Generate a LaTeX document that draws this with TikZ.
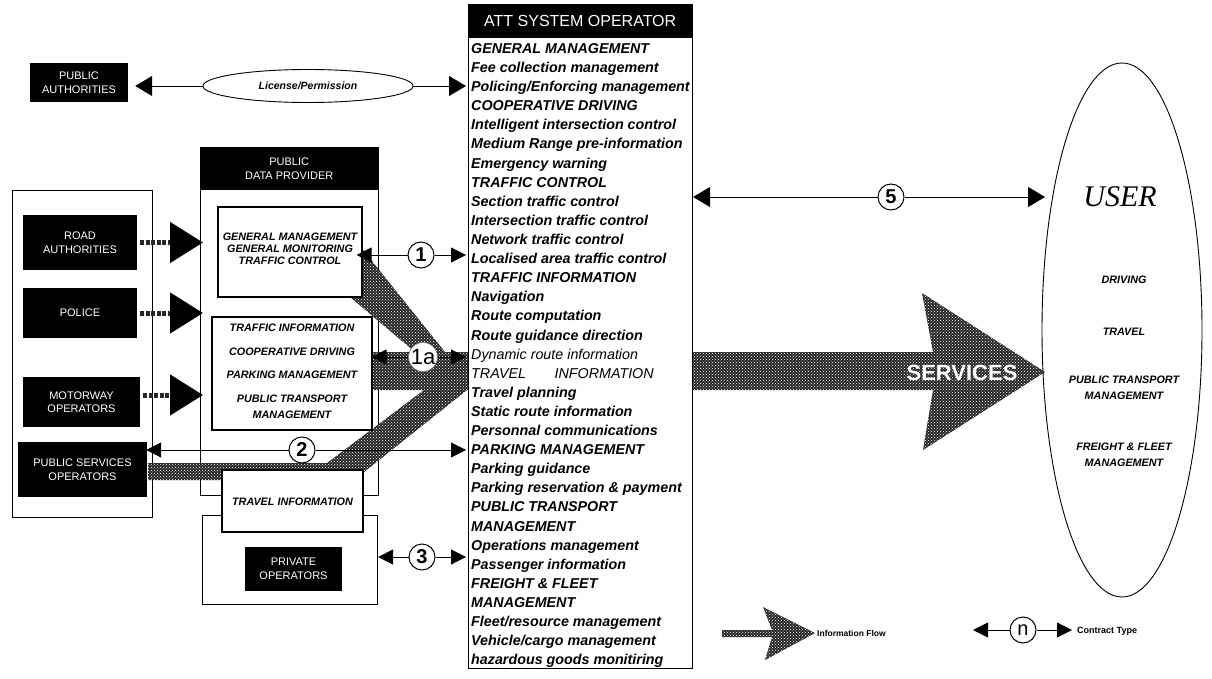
\documentclass[tikz,border=0pt]{standalone}
\usepackage{fontspec}
\setmainfont{Liberation Sans}
\newfontfamily\serifit{Liberation Serif}
\usetikzlibrary{arrows.meta,patterns,shapes.geometric,calc}
\newcommand{\setfs}[2]{\fontsize{#1}{#2}\selectfont}

\begin{document}
\begin{tikzpicture}[x=1pt,y=-1pt,
  box/.style={draw,line width=1.1pt,fill=white,inner sep=0pt},
  blk/.style={fill=black,text=white,font=\setfs{11}{13.5},align=center,inner sep=0pt},
  ci/.style={anchor=west,font=\bfseries\itshape\setfs{14.3}{16},inner sep=0pt,text height=10pt,text depth=3pt},
  cr/.style={anchor=west,font=\itshape\setfs{14.3}{16},inner sep=0pt,text height=10pt,text depth=3pt},
  bi/.style={font=\bfseries\itshape\setfs{10.8}{12},align=center,inner sep=0pt},
  arr/.style={line width=0.9pt,-{Triangle[length=15pt,width=15pt]}},
  arrbig/.style={line width=0.9pt,-{Triangle[length=17pt,width=20pt]}},
  fat/.style={line width=5pt,black!85,dash pattern=on 4pt off 1.5pt,
    -{Triangle[length=33pt,width=40pt,fill=black,color=black]}},
  num/.style={circle,draw,line width=1pt,fill=white,inner sep=0pt,minimum size=26pt,font=\bfseries\setfs{20}{20}},
  band/.style={fill=black!85,postaction={pattern=crosshatch dots,pattern color=white}}]
\useasboundingbox (0,0) rectangle (1212,679);

% ---------- frames behind the information flow ----------
\node[box,anchor=north west,minimum width=140pt,minimum height=327pt] (grp) at (12,190) {};
\node[box,anchor=north west,minimum width=178pt,minimum height=348pt] (pdp) at (200,147) {};
\node[box,anchor=north west,minimum width=175pt,minimum height=89pt] (prv) at (202,515) {};

% ---------- information flow band ----------
\fill[band] (270,230) -- (335,215) -- (445,352) -- (933,352) -- (922,293)
  -- (1045,372) -- (923,450) -- (933,390) -- (467,390) -- (354,480)
  -- (148,480) -- (148,463) -- (327,463) -- (424,390) -- (360,390)
  -- (360,352) -- (415,352) -- (350,297) -- cycle;

% ---------- boxes of the public data provider ----------
\node[blk,anchor=north west,minimum width=178pt,minimum height=43pt] (pdph) at (200,147) {PUBLIC\\DATA PROVIDER};
\node[box,minimum width=144pt,minimum height=90pt] (gm) at (290,252) {};
\node[bi] (gmt) at (290,249) {GENERAL MANAGEMENT\\GENERAL MONITORING\\TRAFFIC CONTROL};
\node[box,minimum width=160pt,minimum height=113pt] (ti) at (292,373.5) {};
\node[bi] (ti1) at (292,328) {TRAFFIC INFORMATION};
\node[bi] (ti2) at (292,352) {COOPERATIVE DRIVING};
\node[bi] (ti3) at (292,375) {PARKING MANAGEMENT};
\node[bi,font=\bfseries\itshape\setfs{10.8}{16}] (ti4) at (292,407) {PUBLIC TRANSPORT\\MANAGEMENT};
\node[box,minimum width=141pt,minimum height=62pt] (trv) at (292.5,501) {};
\node[bi] (trvt) at (292.5,502) {TRAVEL INFORMATION};
\node[blk,minimum width=97pt,minimum height=44pt] (po) at (293.5,569) {PRIVATE\\OPERATORS};

% ---------- public bodies ----------
\node[blk,minimum width=98pt,minimum height=39pt] (pa) at (79,82.5) {PUBLIC\\AUTHORITIES};
\node[blk,minimum width=114pt,minimum height=55pt] (ra) at (80,242.5) {ROAD\\AUTHORITIES};
\node[blk,minimum width=114pt,minimum height=50pt] (pol) at (80,313) {POLICE};
\node[blk,minimum width=117pt,minimum height=50pt] (mo) at (81.5,402) {MOTORWAY\\OPERATORS};
\node[blk,minimum width=129pt,minimum height=55pt] (pso) at (82.5,469.5) {PUBLIC SERVICES\\OPERATORS};

\draw[fat,shorten <=3pt,shorten >=-3pt] (ra.east) -- (ra.east -| pdp.west);
\draw[fat,shorten <=3pt,shorten >=-3pt] (pol.east) -- (pol.east -| pdp.west);
\draw[fat,shorten <=3pt,shorten >=-3pt] ($(mo.east)+(0,-7)$) -- ($(mo.east -| pdp.west)+(0,-7)$);

% ---------- licence ----------
\node[draw,ellipse,line width=0.9pt,minimum width=210pt,minimum height=33pt,inner sep=0pt,
  font=\bfseries\itshape\setfs{10.5}{12}] (lic) at (308,86) {License/Permission};

% ---------- ATT system operator ----------
\node[draw,line width=1.1pt,fill=white,minimum width=224pt,minimum height=664pt,inner sep=0pt,anchor=north west] (att) at (468,4) {};
\node[fill=black,text=white,minimum width=224pt,minimum height=34pt,inner sep=0pt,anchor=north west,font=\setfs{16}{16}] (atth) at (468,4) {ATT SYSTEM OPERATOR};
\node[ci] (l1) at (471,50.0) {GENERAL MANAGEMENT};
\node[ci] (l2) at (471,69.1) {Fee collection management};
\node[ci] (l3) at (471,88.2) {Policing/Enforcing management};
\node[ci] (l4) at (471,107.3) {COOPERATIVE DRIVING};
\node[ci] (l5) at (471,126.4) {Intelligent intersection control};
\node[ci] (l6) at (471,145.5) {Medium Range pre-information};
\node[ci] (l7) at (471,164.6) {Emergency warning};
\node[ci] (l8) at (471,183.7) {TRAFFIC CONTROL};
\node[ci] (l9) at (471,202.8) {Section traffic control};
\node[ci] (l10) at (471,221.9) {Intersection traffic control};
\node[ci] (l11) at (471,241.0) {Network traffic control};
\node[ci] (l12) at (471,260.1) {Localised area traffic control};
\node[ci] (l13) at (471,279.2) {TRAFFIC INFORMATION};
\node[ci] (l14) at (471,298.3) {Navigation};
\node[ci] (l15) at (471,317.4) {Route computation};
\node[ci] (l16) at (471,336.5) {Route guidance direction};
\node[cr] (l17) at (471,355.6) {Dynamic route information};
\node[cr] (l18) at (471,374.7) {TRAVEL\hspace{2em}INFORMATION};
\node[ci] (l19) at (471,393.8) {Travel planning};
\node[ci] (l20) at (471,412.9) {Static route information};
\node[ci] (l21) at (471,432.0) {Personnal communications};
\node[ci] (l22) at (471,451.1) {PARKING MANAGEMENT};
\node[ci] (l23) at (471,470.2) {Parking guidance};
\node[ci] (l24) at (471,489.3) {Parking reservation \& payment};
\node[ci] (l25) at (471,508.4) {PUBLIC TRANSPORT};
\node[ci] (l26) at (471,527.5) {MANAGEMENT};
\node[ci] (l27) at (471,546.6) {Operations management};
\node[ci] (l28) at (471,565.7) {Passenger information};
\node[ci] (l29) at (471,584.8) {FREIGHT \& FLEET};
\node[ci] (l30) at (471,603.9) {MANAGEMENT};
\node[ci] (l31) at (471,623.0) {Fleet/resource management};
\node[ci] (l32) at (471,642.1) {Vehicle/cargo management};
\node[ci] (l33) at (471,661.2) {hazardous goods monitiring};

% ---------- user ----------
\node[draw,ellipse,line width=0.9pt,minimum width=160pt,minimum height=534pt,inner sep=0pt] (user) at (1122,330) {};
\node[font=\serifit\itshape\setfs{30}{30}] (usr) at (1120,197) {USER};
\node[bi] (u1) at (1124,280) {DRIVING};
\node[bi] (u2) at (1124,332) {TRAVEL};
\node[bi,font=\bfseries\itshape\setfs{10.8}{16}] (u3) at (1124,388) {PUBLIC TRANSPORT\\MANAGEMENT};
\node[bi,font=\bfseries\itshape\setfs{10.8}{16}] (u4) at (1124,455) {FREIGHT \& FLEET\\MANAGEMENT};
\node[text=white,font=\bfseries\setfs{22}{22},inner sep=0pt] (srv) at (962,373) {SERVICES};

% ---------- contracts ----------
\draw[arrbig,shorten >=7pt] (lic.west) -- (lic.west -| pa.east);
\draw[arrbig,shorten >=2pt] (lic.east) -- (lic.east -| att.west);

\node[num] (c1) at (421,255) {1};
\draw[arr,shorten >=-6pt] (c1) -- (c1 -| gm.east);
\draw[arr,shorten >=2pt] (c1) -- (c1 -| att.west);

\node[circle,draw=black!50,line width=0.6pt,fill=white,inner sep=0pt,minimum size=26pt,font=\setfs{22}{22}] (c1a) at (423,357) {1a};
\draw[arr,shorten >=-1pt] (c1a) -- (c1a -| ti.east);
\draw[arr,shorten >=2pt] (c1a) -- (c1a -| att.west);

\node[num] (c2) at (302,450) {2};
\draw[arr,shorten >=-1pt] (c2) -- (c2 -| pso.east);
\draw[arr,shorten >=2pt] (c2) -- (c2 -| att.west);

\node[num] (c3) at (422,557) {3};
\draw[arr] (c3) -- (c3 -| prv.east);
\draw[arr,shorten >=2pt] (c3) -- (c3 -| att.west);

\node[num] (c5) at (891,197) {5};
\coordinate (u5) at (1045,197);
\draw[arrbig] (c5) -- (c5 -| att.east);
\draw[arrbig] (c5) -- (u5);

% ---------- legend ----------
\fill[band] (722,630) -- (772,630) -- (763,607) -- (815,633) -- (765,660)
  -- (772,637) -- (722,637) -- cycle;
\node[anchor=west,font=\bfseries\setfs{8.5}{10},inner sep=0pt] (lgf) at (817,633) {Information Flow};
\node[num,font=\setfs{20}{20}] (cn) at (1023,630) {n};
\coordinate (cnl) at (973,630);
\coordinate (cnr) at (1072,630);
\draw[arr] (cn) -- (cnl);
\draw[arr] (cn) -- (cnr);
\node[anchor=west,font=\bfseries\setfs{9}{10},inner sep=0pt] (lgc) at (1077,631) {Contract Type};
\end{tikzpicture}
\end{document}
